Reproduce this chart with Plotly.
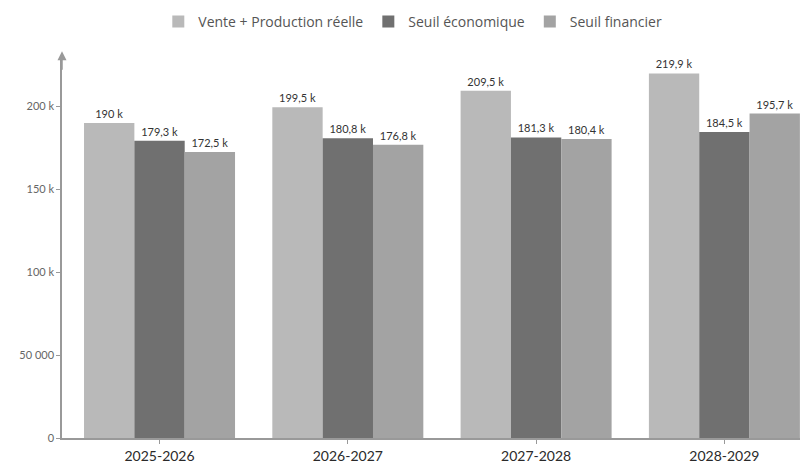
import plotly.graph_objects as go

categories = ["2025-2026", "2026-2027", "2027-2028", "2028-2029"]
vente = [190000, 199500, 209500, 219900]
seuil_eco = [179300, 180800, 181300, 184500]
seuil_fin = [172500, 176800, 180400, 195700]
tick_vals = [0, 50000, 100000, 150000, 200000]
tick_text = ["0", "50 000", "100 k", "150 k", "200 k"]


def fmt(v):
    s = f"{v/1000:.1f}".replace(".", ",")
    if s.endswith(",0"):
        s = s[:-2]
    return s + " k"


series = [
    ("Vente + Production réelle", vente, "#b9b9b9"),
    ("Seuil économique", seuil_eco, "#707070"),
    ("Seuil financier", seuil_fin, "#a3a3a3"),
]

fig = go.Figure()
for name, vals, col in series:
    fig.add_trace(go.Bar(
        name=name, x=categories, y=vals, marker_color=col,
        marker_line_width=0,
        text=[fmt(v) for v in vals], textposition="outside",
        textfont=dict(size=11, color="#333333", family="Lato"),
        cliponaxis=False,
    ))

fig.update_layout(
    width=800, height=456,
    paper_bgcolor="white", plot_bgcolor="white",
    barmode="group", bargap=0.198, bargroupgap=0,
    margin=dict(l=54, r=0, t=47, b=26, autoexpand=False),
    font=dict(family="Lato", color="#555555"),
    legend=dict(orientation="h", x=0.506, xref="container", xanchor="center",
                y=1 - 14 / 456, yref="container", yanchor="middle",
                font=dict(size=14, color="#555555", family="Open Sans"),
                traceorder="normal"),
)
fig.update_xaxes(
    range=[-0.518, 3.444], showline=True, linecolor="#999999", linewidth=1.5,
    ticks="outside", ticklen=4, tickcolor="#999999",
    tickfont=dict(size=14, color="#2a2a2a", family="Lato"),
    showgrid=False, automargin=False,
)
fig.update_yaxes(
    range=[0, 231000], tickvals=tick_vals, ticktext=tick_text,
    showline=True, linecolor="#999999", linewidth=1.5,
    ticks="outside", ticklen=4, tickcolor="#999999",
    tickfont=dict(size=11, color="#666666", family="Lato"),
    showgrid=False, automargin=False,
)
fig.add_annotation(x=0, y=1.01, xref="paper", yref="paper", ax=0, ay=20,
                   showarrow=True, arrowhead=2, arrowsize=1.2, arrowwidth=1.5,
                   arrowcolor="#999999", text="")
fig.write_html("out.html")
